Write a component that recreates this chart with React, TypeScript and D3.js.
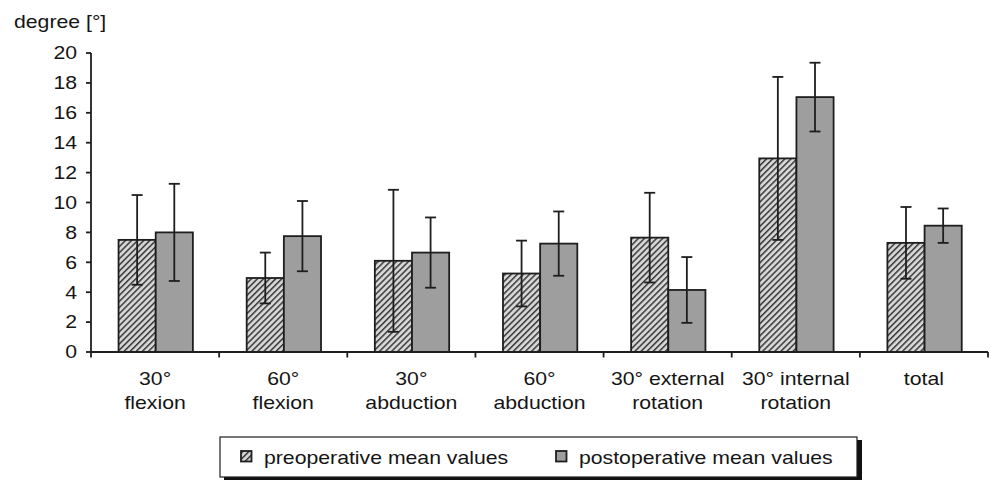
import React from "react";
import * as d3 from "d3";

const categories = [
  ["30°", "flexion"],
  ["60°", "flexion"],
  ["30°", "abduction"],
  ["60°", "abduction"],
  ["30° external", "rotation"],
  ["30° internal", "rotation"],
  ["total"],
];
const series = ["preoperative mean values", "postoperative mean values"];
const preMeans = [7.5, 4.95, 6.1, 5.25, 7.65, 12.95, 7.3];
const preErr = [3.0, 1.7, 4.75, 2.2, 3.0, 5.45, 2.4];
const postMeans = [8.0, 7.75, 6.65, 7.25, 4.15, 17.05, 8.45];
const postErr = [3.25, 2.35, 2.35, 2.15, 2.2, 2.3, 1.15];
const yTicks = [0, 2, 4, 6, 8, 10, 12, 14, 16, 18, 20];
const yTitle = "degree [°]";

const FONT = "'Liberation Sans', Arial, Helvetica, sans-serif";
const FS = 18;
const SX = 1.18;
const INK = "#1e1e1e";
const SW = 1.8;

export default function App() {
  const W = 991, H = 480;
  const left = 91, right = 988, top = 53, bottom = 352;
  const y = d3.scaleLinear().domain([0, 20]).range([bottom, top]);
  const x0 = d3.scaleBand<number>().domain(d3.range(categories.length)).range([left, right]).paddingInner(0).paddingOuter(0);
  const bw = x0.bandwidth();
  const x1 = d3.scaleBand<number>().domain([0, 1]).range([bw * 0.215, bw * 0.795]).padding(0);
  const barW = x1.bandwidth();
  const data = [
    { means: preMeans, errs: preErr, fill: "url(#hatch)" },
    { means: postMeans, errs: postErr, fill: "#9e9e9e" },
  ];
  const txt = (s: string, x: number, yy: number, anchor: string, key?: any) => (
    <text key={key} transform={`translate(${x},${yy}) scale(${SX},1)`} textAnchor={anchor as any} fontFamily={FONT} fontSize={FS} fill="#151515">{s}</text>
  );
  const boundaries = d3.range(categories.length + 1).map((i) => left + i * bw);
  return (
    <svg width={W} height={H} style={{ position: "absolute", left: 0, top: 0, background: "#fff" }}>
      <defs>
        <pattern id="hatch" patternUnits="userSpaceOnUse" width={4.3} height={4.3} patternTransform="rotate(45)">
          <rect width={4.3} height={4.3} fill="#d6d6d6" />
          <line x1={0} y1={0} x2={0} y2={4.3} stroke="#383838" strokeWidth={3} />
        </pattern>
      </defs>
      <rect width={W} height={H} fill="#fff" />
      {txt(yTitle, 14, 28, "start")}
      {/* y axis */}
      <line x1={left} x2={left} y1={top} y2={bottom} stroke={INK} strokeWidth={SW} />
      {yTicks.map((t) => (
        <g key={t}>
          <line x1={left - 5} x2={left} y1={y(t)} y2={y(t)} stroke={INK} strokeWidth={SW} />
          {txt(String(t), 77, y(t) + 6.3, "end")}
        </g>
      ))}
      {/* bars */}
      {data.map((s, si) =>
        s.means.map((m, i) => {
          const bx = (x0(i) as number) + (x1(si) as number);
          return (
            <rect key={`b${si}-${i}`} x={bx} y={y(m)} width={barW} height={y(0) - y(m)} fill={s.fill} stroke={INK} strokeWidth={SW} />
          );
        })
      )}
      {/* error bars */}
      {data.map((s, si) =>
        s.means.map((m, i) => {
          const cx = (x0(i) as number) + (x1(si) as number) + barW / 2;
          const y1 = y(m + s.errs[i]);
          const y2 = y(m - s.errs[i]);
          return (
            <g key={`e${si}-${i}`} stroke={INK} strokeWidth={SW}>
              <line x1={cx} x2={cx} y1={y1} y2={y2} />
              <line x1={cx - 5.5} x2={cx + 5.5} y1={y1} y2={y1} />
              <line x1={cx - 5.5} x2={cx + 5.5} y1={y2} y2={y2} />
            </g>
          );
        })
      )}
      {/* x axis */}
      <line x1={left} x2={right} y1={bottom} y2={bottom} stroke={INK} strokeWidth={SW} />
      {boundaries.map((b, i) => (
        <line key={`t${i}`} x1={b} x2={b} y1={bottom} y2={bottom + 5.5} stroke={INK} strokeWidth={SW} />
      ))}
      {categories.map((lines, i) => {
        const cx = (x0(i) as number) + bw / 2;
        return <g key={`c${i}`}>{lines.map((l, li) => txt(l, cx, 384.5 + li * 24.5, "middle", li))}</g>;
      })}
      {/* legend */}
      <rect x={224} y={440} width={638} height={42} fill="#111" />
      <rect x={220} y={437} width={637} height={40} fill="#fff" stroke={INK} strokeWidth={1.2} />
      {series.map((s, i) => {
        const sx = i === 0 ? 241 : 556;
        return (
          <g key={`l${i}`}>
            <rect x={sx} y={451} width={10.5} height={10.5} fill={i === 0 ? "url(#hatch)" : "#9e9e9e"} stroke={INK} strokeWidth={SW} />
            {txt(s, sx + 23, 464, "start")}
          </g>
        );
      })}
    </svg>
  );
}
